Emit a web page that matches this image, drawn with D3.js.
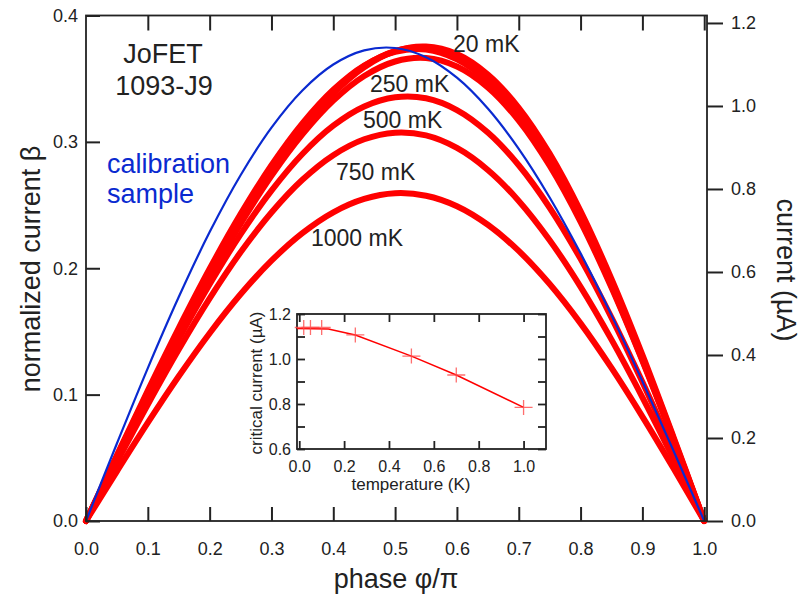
<!DOCTYPE html>
<html>
<head>
<meta charset="utf-8">
<script src="https://cdn.jsdelivr.net/npm/d3@7"></script>
<style>
  body { margin: 0; background: #fff; }
  svg { display: block; }
  text { font-family: "Liberation Sans", Arial, Helvetica, sans-serif; fill: #222; }
</style>
</head>
<body>
<svg id="chart" width="804" height="601"></svg>
<script>
// ---- data -------------------------------------------------------------
// phase grid (in units of pi) shared by every current-phase curve
const phase = [0, 0.05, 0.1, 0.15, 0.2, 0.25, 0.3, 0.35, 0.4, 0.45, 0.5,
               0.55, 0.6, 0.65, 0.7, 0.75, 0.8, 0.85, 0.9, 0.95, 1];

// calibration sample (blue)
const calibration = [0, 0.0613, 0.1210, 0.1772, 0.2286, 0.2736, 0.3113, 0.3407, 0.3612, 0.3724, 0.3743,
                     0.3670, 0.3508, 0.3264, 0.2945, 0.2560, 0.2118, 0.1629, 0.1106, 0.0559, 0];

// JoFET normalized current at each temperature
const beta20mK   = [0, 0.0505, 0.1003, 0.1487, 0.1947, 0.2377, 0.2766, 0.3105, 0.3383, 0.3591, 0.3718,
                    0.3754, 0.3695, 0.3533, 0.3270, 0.2907, 0.2452, 0.1916, 0.1315, 0.0669, 0];
const beta50mK   = [0, 0.0513, 0.1019, 0.1508, 0.1973, 0.2405, 0.2793, 0.3129, 0.3401, 0.3601, 0.3718,
                    0.3746, 0.3677, 0.3509, 0.3240, 0.2875, 0.2421, 0.1889, 0.1296, 0.0659, 0];
const beta100mK  = [0, 0.0521, 0.1033, 0.1527, 0.1996, 0.2428, 0.2815, 0.3146, 0.3412, 0.3604, 0.3712,
                    0.3731, 0.3653, 0.3478, 0.3205, 0.2838, 0.2386, 0.1860, 0.1274, 0.0648, 0];
const beta250mK  = [0, 0.0502, 0.0996, 0.1475, 0.1930, 0.2351, 0.2731, 0.3059, 0.3326, 0.3521, 0.3636,
                    0.3663, 0.3596, 0.3431, 0.3168, 0.2811, 0.2367, 0.1847, 0.1267, 0.0644, 0];
const beta500mK  = [0, 0.0493, 0.0976, 0.1439, 0.1873, 0.2268, 0.2614, 0.2904, 0.3128, 0.3280, 0.3353,
                    0.3345, 0.3252, 0.3074, 0.2815, 0.2479, 0.2074, 0.1610, 0.1100, 0.0558, 0];
const beta750mK  = [0, 0.0466, 0.0922, 0.1357, 0.1761, 0.2126, 0.2441, 0.2700, 0.2895, 0.3021, 0.3073,
                    0.3051, 0.2952, 0.2778, 0.2533, 0.2222, 0.1853, 0.1435, 0.0979, 0.0496, 0];
const beta1000mK = [0, 0.0393, 0.0778, 0.1145, 0.1486, 0.1794, 0.2060, 0.2278, 0.2443, 0.2549, 0.2594,
                    0.2574, 0.2491, 0.2344, 0.2137, 0.1875, 0.1564, 0.1211, 0.0826, 0.0419, 0];

// inset: critical current versus temperature
const temperatureK    = [0.02, 0.05, 0.1, 0.25, 0.5, 0.7, 1.0];
const criticalCurrent = [1.14, 1.14, 1.14, 1.107, 1.013, 0.929, 0.785];
const fitTemperature  = [-0.01, 0.13, 0.25, 0.5, 0.7, 1.0];
const fitCurrent      = [1.136, 1.133, 1.107, 1.013, 0.929, 0.785];

// ticks and labels
const phaseTicks   = [0, 0.1, 0.2, 0.3, 0.4, 0.5, 0.6, 0.7, 0.8, 0.9, 1.0];
const betaTicks    = [0, 0.1, 0.2, 0.3, 0.4];
const currentTicks = [0, 0.2, 0.4, 0.6, 0.8, 1.0, 1.2];
const insetTempTicks     = [0, 0.2, 0.4, 0.6, 0.8, 1.0];
const insetCurrentTicks  = [0.6, 0.7, 0.8, 0.9, 1.0, 1.1, 1.2];
const insetCurrentLabels = [0.6, 0.8, 1.0, 1.2];
const curveLabels = ["20 mK", "250 mK", "500 mK", "750 mK", "1000 mK"];

// µA of critical current per unit of normalized current
const microAmpPerBeta = 3.045;

// ---- layout -----------------------------------------------------------
const svg = d3.select("#chart");
const ink = "#222";
const red = "#ff0000";
const blue = "#0a2ad0";
const fmt1 = d3.format(".1f");

const x = d3.scaleLinear().domain([0, 1.0045]).range([86, 707]);
const y = d3.scaleLinear().domain([0, 0.4]).range([521, 15.5]);
const yRight = d3.scaleLinear().domain([0, 0.4 * microAmpPerBeta]).range([521, 15.5]);

function styleAxis(g, size, tickWidth) {
  g.select(".domain").remove();
  g.selectAll(".tick line").attr("stroke", ink).attr("stroke-width", tickWidth);
  g.selectAll(".tick text").attr("fill", ink).style("font-size", size + "px")
    .style("font-family", '"Liberation Sans", Arial, sans-serif');
}

// curves
const redSeries = [beta1000mK, beta750mK, beta500mK, beta250mK, beta100mK, beta50mK, beta20mK];
const line = d3.line()
  .x((d, i) => x(phase[i]))
  .y(d => y(d))
  .curve(d3.curveCatmullRom.alpha(0.5));

svg.append("g").selectAll("path").data(redSeries).join("path")
  .attr("d", line)
  .attr("fill", "none")
  .attr("stroke", red)
  .attr("stroke-width", 6)
  .attr("stroke-linejoin", "round")
  .attr("stroke-linecap", "round");

svg.append("path")
  .attr("d", line(calibration))
  .attr("fill", "none")
  .attr("stroke", blue)
  .attr("stroke-width", 2.2);

// frame
svg.append("rect")
  .attr("x", x(0)).attr("y", y(0.4))
  .attr("width", x(1.0045) - x(0)).attr("height", y(0) - y(0.4))
  .attr("fill", "none").attr("stroke", ink).attr("stroke-width", 1.8);

// axes: ticks point into the plot except on the right-hand current axis
svg.append("g").attr("transform", `translate(0,${y(0)})`)
  .call(d3.axisBottom(x).tickValues(phaseTicks).tickFormat(fmt1)
        .tickSizeInner(-14).tickSizeOuter(0).tickPadding(21))
  .call(g => styleAxis(g, 18, 2));
svg.append("g").attr("transform", `translate(0,${y(0.4)})`)
  .call(d3.axisTop(x).tickValues(phaseTicks.slice(1)).tickFormat(() => "")
        .tickSizeInner(-15).tickSizeOuter(0))
  .call(g => styleAxis(g, 18, 2));
svg.append("g").attr("transform", `translate(${x(0)},0)`)
  .call(d3.axisLeft(y).tickValues(betaTicks).tickFormat(fmt1)
        .tickSizeInner(-14).tickSizeOuter(0).tickPadding(8))
  .call(g => styleAxis(g, 18, 2));
svg.append("g").attr("transform", `translate(${x(1.0045)},0)`)
  .call(d3.axisRight(yRight).tickValues(currentTicks).tickFormat(fmt1)
        .tickSizeInner(16).tickSizeOuter(0).tickPadding(8))
  .call(g => styleAxis(g, 18, 2));

// axis titles
svg.append("text").attr("x", 396).attr("y", 588).attr("text-anchor", "middle")
  .style("font-size", "27px").text("phase φ/π");
svg.append("text").attr("transform", "translate(40,269) rotate(-90)")
  .attr("text-anchor", "middle").style("font-size", "27px").text("normalized current β");
svg.append("text").attr("transform", "translate(777,270) rotate(90)")
  .attr("text-anchor", "middle").style("font-size", "27px").text("current (µA)");

// annotations
svg.append("text").attr("x", 163).attr("y", 63).attr("text-anchor", "middle")
  .style("font-size", "27px").text("JoFET");
svg.append("text").attr("x", 164).attr("y", 95).attr("text-anchor", "middle")
  .style("font-size", "27px").text("1093-J9");
svg.append("text").attr("x", 107).attr("y", 173).style("font-size", "27px")
  .style("fill", blue).text("calibration");
svg.append("text").attr("x", 107).attr("y", 203).style("font-size", "27px")
  .style("fill", blue).text("sample");

const labelSpots = [[453, 52], [370, 92], [363, 128], [336, 180], [311, 246]];
svg.append("g").selectAll("text").data(curveLabels).join("text")
  .attr("x", (d, i) => labelSpots[i][0])
  .attr("y", (d, i) => labelSpots[i][1])
  .style("font-size", "23px")
  .text(d => d);

// ---- inset ------------------------------------------------------------
const ix = d3.scaleLinear().domain([-0.01, 1.1]).range([297, 546]);
const iy = d3.scaleLinear().domain([0.6, 1.2]).range([449, 314]);

const inset = svg.append("g");
inset.append("rect")
  .attr("x", ix(-0.01)).attr("y", iy(1.2))
  .attr("width", ix(1.1) - ix(-0.01)).attr("height", iy(0.6) - iy(1.2))
  .attr("fill", "#fff").attr("stroke", ink).attr("stroke-width", 1.8);

inset.append("g").attr("transform", `translate(0,${iy(0.6)})`)
  .call(d3.axisBottom(ix).tickValues(insetTempTicks).tickFormat(fmt1)
        .tickSizeInner(-8).tickSizeOuter(0).tickPadding(12))
  .call(g => styleAxis(g, 16, 1.8));
inset.append("g").attr("transform", `translate(0,${iy(1.2)})`)
  .call(d3.axisTop(ix).tickValues(insetTempTicks).tickFormat(() => "")
        .tickSizeInner(-8).tickSizeOuter(0))
  .call(g => styleAxis(g, 16, 1.8));
inset.append("g").attr("transform", `translate(${ix(-0.01)},0)`)
  .call(d3.axisLeft(iy).tickValues(insetCurrentTicks)
        .tickFormat(d => insetCurrentLabels.some(v => Math.abs(v - d) < 1e-9) ? fmt1(d) : "")
        .tickSizeInner(-8).tickSizeOuter(0).tickPadding(6))
  .call(g => styleAxis(g, 16, 1.8));
inset.append("g").attr("transform", `translate(${ix(1.1)},0)`)
  .call(d3.axisRight(iy).tickValues(insetCurrentTicks).tickFormat(() => "")
        .tickSizeInner(-8).tickSizeOuter(0))
  .call(g => styleAxis(g, 16, 1.8));

inset.append("text").attr("x", 411).attr("y", 490).attr("text-anchor", "middle")
  .style("font-size", "17px").text("temperature (K)");
inset.append("text").attr("transform", "translate(262,383) rotate(-90)")
  .attr("text-anchor", "middle").style("font-size", "17px").text("critical current (µA)");

const fitLine = d3.line().x((d, i) => ix(fitTemperature[i])).y(d => iy(d));
inset.append("path").attr("d", fitLine(fitCurrent))
  .attr("fill", "none").attr("stroke", red).attr("stroke-width", 1.5);

inset.append("g").selectAll("path").data(criticalCurrent).join("path")
  .attr("transform", (d, i) => `translate(${ix(temperatureK[i])},${iy(d)})`)
  .attr("d", "M-9,0H9M0,-7.5V7.5")
  .attr("stroke", "#ff4a4a").attr("stroke-opacity", 0.8).attr("stroke-width", 1.3);
</script>
</body>
</html>
